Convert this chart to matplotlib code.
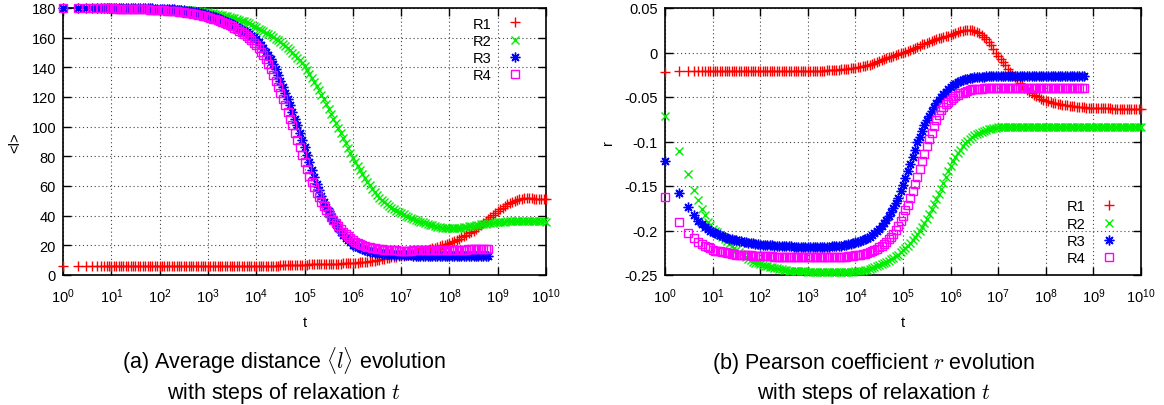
import matplotlib
matplotlib.use("Agg")
import matplotlib.pyplot as plt
import numpy as np

plt.rcParams['font.family'] = ['Liberation Sans', 'DejaVu Sans']
plt.rcParams['axes.unicode_minus'] = False

# sample times: first integer steps, then log-spaced (0.05 decade)
t_early = [1, 2, 3, 4, 5, 6, 7, 8, 9]
exp_short = np.arange(20, 177) / 20.0     # 10^1.0 ... 10^8.8
exp_long = np.arange(20, 201) / 20.0      # 10^1.0 ... 10^10
t_short = np.concatenate([t_early, 10 ** exp_short])
t_long = np.concatenate([t_early, 10 ** exp_long])

labels = ['R1', 'R2', 'R3', 'R4']

# ---- (a) average distance <l> ----
l_R1 = [6.0, 6.0, 6.0, 6.0, 6.0, 6.0, 6.0, 6.0, 6.0,
        6.0, 6.0, 6.0, 6.0, 6.0, 6.0, 6.0, 6.0, 6.0, 6.0,
        6.0, 6.0, 6.0, 6.0, 6.0, 6.0, 6.0, 6.0, 6.0, 6.0,
        6.0, 6.0, 6.0, 6.0, 6.0, 6.0, 6.0, 6.0, 6.0, 6.0,
        6.0, 6.0, 6.0, 6.0, 6.0, 6.0, 6.0, 6.0, 6.0, 6.0,
        6.0, 6.0, 6.0, 6.0, 6.0, 6.0, 6.1, 6.1, 6.1, 6.1,
        6.1, 6.1, 6.1, 6.1, 6.2, 6.2, 6.2, 6.2, 6.2, 6.2,
        6.2, 6.2, 6.3, 6.3, 6.3, 6.3, 6.4, 6.4, 6.4, 6.4,
        6.5, 6.5, 6.6, 6.6, 6.7, 6.7, 6.8, 6.8, 6.9, 6.9,
        7.0, 7.0, 7.1, 7.1, 7.2, 7.2, 7.3, 7.3, 7.4, 7.4,
        7.5, 7.5, 7.6, 7.6, 7.7, 7.7, 7.8, 7.8, 7.9, 8.0,
        8.1, 8.2, 8.4, 8.5, 8.7, 8.8, 9.0, 9.2, 9.5, 9.7,
        10.0, 10.3, 10.6, 10.9, 11.2, 11.5, 11.8, 12.0, 12.3, 12.5,
        12.8, 13.1, 13.4, 13.7, 14.0, 14.4, 14.8, 15.2, 15.6, 16.0,
        16.5, 17.0, 17.5, 18.0, 18.5, 19.0, 19.5, 20.0, 20.5, 21.0,
        21.5, 22.2, 23.0, 23.8, 24.6, 25.4, 26.3, 27.2, 28.1, 29.0,
        30.0, 31.2, 32.4, 33.7, 35.0, 36.3, 37.6, 39.0, 40.3, 41.6,
        43.0, 44.3, 45.5, 46.6, 47.7, 48.6, 49.5, 50.2, 50.8, 51.2,
        51.5, 51.7, 51.8, 51.7, 51.6, 51.4, 51.2, 51.1, 51.0, 51.0,
        51.0]
l_R2 = [180.0, 180.0, 180.0, 180.0, 180.0, 179.9, 179.9, 179.9, 179.9,
        179.8, 179.8, 179.8, 179.8, 179.7, 179.7, 179.7, 179.7, 179.7, 179.6,
        179.6, 179.6, 179.6, 179.5, 179.5, 179.5, 179.5, 179.4, 179.4, 179.4,
        179.3, 179.3, 179.2, 179.2, 179.1, 179.1, 179.0, 179.0, 178.9, 178.8,
        178.7, 178.6, 178.5, 178.4, 178.3, 178.2, 178.0, 177.8, 177.5, 177.3,
        177.0, 176.7, 176.4, 176.1, 175.8, 175.5, 175.1, 174.7, 174.3, 173.9,
        173.5, 173.1, 172.6, 172.1, 171.5, 170.9, 170.3, 169.6, 168.8, 167.9,
        167.0, 166.1, 165.2, 164.3, 163.4, 162.5, 161.5, 160.5, 159.4, 158.2,
        157.0, 155.8, 154.5, 153.0, 151.5, 149.9, 148.2, 146.5, 144.7, 142.9,
        141.0, 138.4, 135.8, 133.1, 130.3, 127.5, 124.6, 121.6, 118.5, 115.3,
        112.0, 108.8, 105.5, 102.3, 99.0, 95.6, 92.3, 88.9, 85.6, 82.3,
        79.0, 76.2, 73.5, 70.7, 68.0, 65.5, 63.0, 60.6, 58.3, 56.1,
        54.0, 52.2, 50.5, 49.0, 47.6, 46.4, 45.2, 44.2, 43.3, 42.4,
        41.6, 40.8, 40.0, 39.3, 38.6, 37.9, 37.3, 36.6, 36.0, 35.4,
        34.8, 34.3, 33.8, 33.4, 33.0, 32.6, 32.3, 32.0, 31.8, 31.6,
        31.5, 31.5, 31.5, 31.6, 31.7, 31.9, 32.1, 32.4, 32.7, 33.0,
        33.3, 33.6, 33.9, 34.2, 34.4, 34.7, 34.9, 35.1, 35.3, 35.5,
        35.6, 35.8, 35.9, 36.0, 36.1, 36.2, 36.3, 36.3, 36.4, 36.5,
        36.5, 36.5, 36.4, 36.4, 36.3, 36.3, 36.2, 36.2, 36.1, 36.1,
        36.0]
l_R3 = [180.0, 180.0, 180.0, 180.0, 180.0, 180.0, 180.0, 180.0, 180.0,
        180.0, 180.0, 179.9, 179.9, 179.9, 179.9, 179.9, 179.9, 179.8, 179.8,
        179.8, 179.8, 179.8, 179.8, 179.7, 179.7, 179.7, 179.7, 179.6, 179.6,
        179.5, 179.5, 179.4, 179.3, 179.2, 179.1, 179.0, 178.9, 178.8, 178.7,
        178.5, 178.3, 178.1, 177.9, 177.6, 177.3, 177.0, 176.6, 176.2, 175.8,
        175.3, 174.9, 174.4, 173.9, 173.4, 172.8, 172.2, 171.5, 170.8, 170.0,
        169.2, 168.4, 167.5, 166.5, 165.5, 164.5, 163.5, 162.4, 161.3, 160.2,
        159.0, 157.1, 155.0, 152.8, 150.5, 148.0, 145.5, 142.4, 139.0, 135.1,
        131.0, 127.0, 123.0, 118.8, 114.5, 110.0, 105.5, 100.8, 96.0, 91.0,
        86.0, 81.0, 76.0, 71.0, 66.0, 61.4, 57.0, 53.1, 49.5, 46.1,
        43.0, 39.9, 37.0, 34.1, 31.5, 29.2, 27.0, 25.2, 23.5, 22.0,
        20.5, 19.5, 18.6, 17.9, 17.2, 16.7, 16.2, 15.8, 15.4, 15.1,
        14.8, 14.5, 14.3, 14.1, 14.0, 13.9, 13.8, 13.7, 13.6, 13.5,
        13.4, 13.3, 13.3, 13.2, 13.2, 13.1, 13.1, 13.1, 13.1, 13.0,
        13.0, 13.0, 13.0, 13.0, 13.0, 13.0, 13.0, 13.0, 13.0, 13.0,
        13.0, 13.0, 13.0, 13.0, 13.0, 13.0, 13.0, 13.0, 13.0, 13.0,
        13.0, 13.0, 13.0, 13.0, 13.0, 13.0, 13.0]
l_R4 = [180.0, 179.9, 179.9, 179.9, 179.8, 179.8, 179.8, 179.8, 179.8,
        179.7, 179.7, 179.6, 179.6, 179.5, 179.5, 179.4, 179.4, 179.3, 179.3,
        179.2, 179.2, 179.1, 179.1, 179.0, 179.0, 178.9, 178.9, 178.8, 178.7,
        178.6, 178.5, 178.4, 178.3, 178.1, 178.0, 177.8, 177.7, 177.5, 177.3,
        177.1, 176.9, 176.7, 176.5, 176.2, 175.9, 175.6, 175.2, 174.8, 174.3,
        173.8, 173.4, 172.9, 172.4, 171.8, 171.2, 170.6, 169.9, 169.2, 168.4,
        167.6, 166.7, 165.7, 164.6, 163.5, 162.3, 161.0, 159.6, 158.2, 156.6,
        155.0, 152.8, 150.5, 148.0, 145.5, 142.4, 139.0, 135.1, 131.0, 127.0,
        123.0, 118.8, 114.5, 110.0, 105.5, 100.8, 96.0, 91.0, 86.0, 81.0,
        76.0, 71.5, 67.0, 63.0, 59.2, 55.6, 52.3, 49.3, 46.5, 43.9,
        41.5, 39.2, 37.0, 34.9, 32.9, 31.0, 29.2, 27.5, 26.0, 24.7,
        23.5, 22.4, 21.5, 20.7, 20.0, 19.5, 19.0, 18.6, 18.2, 17.9,
        17.6, 17.4, 17.2, 17.0, 16.9, 16.8, 16.7, 16.6, 16.6, 16.5,
        16.5, 16.5, 16.5, 16.5, 16.5, 16.6, 16.6, 16.6, 16.6, 16.6,
        16.7, 16.7, 16.7, 16.7, 16.8, 16.8, 16.8, 16.8, 16.9, 16.9,
        17.0, 17.0, 17.0, 17.0, 17.1, 17.1, 17.1, 17.1, 17.2, 17.2,
        17.2, 17.2, 17.3, 17.3, 17.3, 17.3, 17.4]

# ---- (b) Pearson coefficient r ----
r_R1 = [-0.022, -0.021, -0.021, -0.021, -0.021, -0.021, -0.021, -0.021, -0.021,
        -0.021, -0.021, -0.021, -0.021, -0.021, -0.021, -0.021, -0.021, -0.021, -0.021,
        -0.021, -0.021, -0.021, -0.021, -0.021, -0.021, -0.021, -0.021, -0.021, -0.021,
        -0.021, -0.021, -0.021, -0.021, -0.021, -0.021, -0.021, -0.021, -0.021, -0.021,
        -0.021, -0.021, -0.021, -0.021, -0.021, -0.021, -0.021, -0.021, -0.021, -0.021,
        -0.021, -0.021, -0.021, -0.021, -0.021, -0.021, -0.0205, -0.0205, -0.020, -0.020,
        -0.020, -0.020, -0.0195, -0.0195, -0.019, -0.0185, -0.018, -0.018, -0.0175, -0.0172,
        -0.017, -0.0165, -0.016, -0.0155, -0.015, -0.0143, -0.0135, -0.0125, -0.0115, -0.0105,
        -0.0095, -0.0085, -0.0075, -0.0065, -0.0055, -0.0045, -0.0035, -0.0025, -0.0015, -0.0007,
        0.000, 0.001, 0.002, 0.003, 0.004, 0.0053, 0.0065, 0.0078, 0.009, 0.010,
        0.011, 0.012, 0.013, 0.014, 0.015, 0.0158, 0.0165, 0.0173, 0.018, 0.019,
        0.020, 0.021, 0.022, 0.023, 0.0238, 0.0246, 0.0252, 0.0255, 0.0256, 0.0250,
        0.024, 0.023, 0.0215, 0.0197, 0.0175, 0.0147, 0.0115, 0.008, 0.004, 0.000,
        -0.004, -0.0075, -0.011, -0.0145, -0.018, -0.0215, -0.025, -0.028, -0.031, -0.034,
        -0.037, -0.0395, -0.042, -0.044, -0.046, -0.0475, -0.049, -0.0505, -0.052, -0.053,
        -0.054, -0.0548, -0.0555, -0.0563, -0.057, -0.0575, -0.058, -0.0585, -0.059, -0.0595,
        -0.060, -0.0603, -0.0605, -0.0608, -0.061, -0.0613, -0.0615, -0.0618, -0.062, -0.062,
        -0.062, -0.0621, -0.0622, -0.0623, -0.0625, -0.0626, -0.0627, -0.0628, -0.063, -0.063,
        -0.063, -0.063, -0.063, -0.063, -0.063, -0.063, -0.063, -0.063, -0.063, -0.063,
        -0.063]
r_R2 = [-0.071, -0.111, -0.136, -0.154, -0.166, -0.176, -0.183, -0.190, -0.194,
        -0.198, -0.200, -0.202, -0.205, -0.207, -0.210, -0.212, -0.215, -0.217, -0.220,
        -0.222, -0.224, -0.226, -0.228, -0.230, -0.232, -0.233, -0.235, -0.236, -0.237,
        -0.238, -0.239, -0.240, -0.240, -0.241, -0.241, -0.242, -0.242, -0.243, -0.243,
        -0.244, -0.244, -0.245, -0.245, -0.245, -0.245, -0.246, -0.246, -0.246, -0.246,
        -0.247, -0.247, -0.247, -0.247, -0.247, -0.247, -0.247, -0.247, -0.247, -0.247,
        -0.247, -0.247, -0.247, -0.247, -0.247, -0.247, -0.247, -0.247, -0.247, -0.247,
        -0.246, -0.246, -0.245, -0.245, -0.244, -0.244, -0.243, -0.242, -0.241, -0.240,
        -0.239, -0.238, -0.237, -0.2355, -0.234, -0.2325, -0.231, -0.229, -0.227, -0.2245,
        -0.222, -0.2195, -0.217, -0.214, -0.211, -0.2075, -0.204, -0.200, -0.196, -0.1915,
        -0.187, -0.1815, -0.176, -0.1705, -0.165, -0.159, -0.153, -0.1465, -0.140, -0.1335,
        -0.127, -0.122, -0.117, -0.113, -0.109, -0.1055, -0.102, -0.0995, -0.097, -0.095,
        -0.093, -0.0915, -0.090, -0.089, -0.088, -0.087, -0.086, -0.0855, -0.085, -0.0845,
        -0.084, -0.084, -0.084, -0.084, -0.084, -0.084, -0.084, -0.084, -0.084, -0.084,
        -0.084, -0.084, -0.084, -0.084, -0.084, -0.084, -0.084, -0.084, -0.084, -0.084,
        -0.084, -0.084, -0.084, -0.084, -0.084, -0.084, -0.084, -0.084, -0.084, -0.084,
        -0.084, -0.084, -0.084, -0.084, -0.084, -0.084, -0.084, -0.084, -0.084, -0.084,
        -0.084, -0.084, -0.084, -0.084, -0.084, -0.084, -0.084, -0.084, -0.084, -0.084,
        -0.084, -0.084, -0.084, -0.084, -0.084, -0.084, -0.084, -0.084, -0.084, -0.084,
        -0.084]
r_R3 = [-0.122, -0.158, -0.174, -0.183, -0.189, -0.193, -0.196, -0.198, -0.200,
        -0.202, -0.203, -0.204, -0.205, -0.206, -0.207, -0.208, -0.209, -0.210, -0.2105,
        -0.211, -0.2115, -0.212, -0.2125, -0.213, -0.2135, -0.214, -0.2145, -0.215, -0.2155,
        -0.216, -0.216, -0.216, -0.216, -0.216, -0.2165, -0.217, -0.217, -0.217, -0.217,
        -0.217, -0.217, -0.217, -0.2175, -0.218, -0.218, -0.218, -0.218, -0.218, -0.218,
        -0.218, -0.218, -0.218, -0.218, -0.218, -0.218, -0.218, -0.218, -0.218, -0.218,
        -0.2175, -0.217, -0.217, -0.217, -0.217, -0.2165, -0.216, -0.2155, -0.215, -0.214,
        -0.213, -0.2125, -0.212, -0.211, -0.210, -0.2085, -0.207, -0.205, -0.203, -0.2005,
        -0.198, -0.195, -0.192, -0.188, -0.184, -0.1795, -0.175, -0.169, -0.163, -0.156,
        -0.149, -0.141, -0.133, -0.125, -0.117, -0.109, -0.101, -0.0945, -0.088, -0.082,
        -0.076, -0.071, -0.066, -0.0615, -0.057, -0.0535, -0.050, -0.047, -0.044, -0.0415,
        -0.039, -0.037, -0.035, -0.0335, -0.032, -0.031, -0.030, -0.0295, -0.029, -0.0285,
        -0.028, -0.0275, -0.027, -0.027, -0.027, -0.0265, -0.026, -0.026, -0.026, -0.026,
        -0.026, -0.026, -0.026, -0.026, -0.026, -0.026, -0.026, -0.026, -0.026, -0.026,
        -0.026, -0.026, -0.026, -0.026, -0.026, -0.026, -0.026, -0.026, -0.026, -0.026,
        -0.026, -0.026, -0.026, -0.026, -0.026, -0.026, -0.026, -0.026, -0.026, -0.026,
        -0.026, -0.026, -0.026, -0.026, -0.026, -0.026, -0.026]
r_R4 = [-0.162, -0.190, -0.203, -0.208, -0.213, -0.215, -0.217, -0.219, -0.220,
        -0.222, -0.2225, -0.223, -0.2235, -0.224, -0.2245, -0.225, -0.2255, -0.226, -0.2265,
        -0.227, -0.227, -0.227, -0.2275, -0.228, -0.228, -0.228, -0.2285, -0.229, -0.229,
        -0.229, -0.229, -0.229, -0.229, -0.229, -0.229, -0.230, -0.230, -0.230, -0.230,
        -0.230, -0.230, -0.230, -0.230, -0.230, -0.230, -0.230, -0.230, -0.230, -0.230,
        -0.230, -0.230, -0.230, -0.230, -0.230, -0.230, -0.230, -0.230, -0.230, -0.230,
        -0.230, -0.230, -0.230, -0.230, -0.230, -0.230, -0.2295, -0.229, -0.229, -0.2285,
        -0.228, -0.2275, -0.227, -0.2265, -0.226, -0.225, -0.224, -0.223, -0.222, -0.2205,
        -0.219, -0.217, -0.215, -0.2125, -0.210, -0.207, -0.204, -0.1995, -0.195, -0.1895,
        -0.184, -0.1775, -0.171, -0.1635, -0.156, -0.148, -0.140, -0.131, -0.122, -0.1135,
        -0.105, -0.0975, -0.090, -0.083, -0.076, -0.0705, -0.065, -0.0615, -0.058, -0.0555,
        -0.053, -0.051, -0.049, -0.0475, -0.046, -0.045, -0.044, -0.043, -0.042, -0.0415,
        -0.041, -0.041, -0.041, -0.0405, -0.040, -0.040, -0.040, -0.040, -0.040, -0.040,
        -0.040, -0.040, -0.040, -0.040, -0.040, -0.040, -0.040, -0.040, -0.040, -0.040,
        -0.040, -0.040, -0.040, -0.040, -0.040, -0.040, -0.040, -0.040, -0.040, -0.040,
        -0.040, -0.040, -0.040, -0.040, -0.040, -0.040, -0.040, -0.040, -0.040, -0.040,
        -0.040, -0.040, -0.040, -0.040, -0.040, -0.040, -0.040]

r_ticks = [-0.25, -0.2, -0.15, -0.1, -0.05, 0, 0.05]
r_ticklabels = ['-0.25', '-0.2', '-0.15', '-0.1', '-0.05', '0', '0.05']

colors = ['#ff0000', '#00ee00', '#0000ff', '#ff00ff']
markers = ['+', 'x', (8, 2, 0), 's']
msizes = [7, 6, 7, 5.5]


def draw(ax, series, times):
    for vals, t, lab, c, m, ms in zip(series, times, labels, colors, markers, msizes):
        ax.plot(t, vals, linestyle='none', marker=m, ms=ms, mew=1.0,
                color=c, mfc='none' if m == 's' else c, label=lab,
                clip_on=False, zorder=3)
    ax.set_xscale('log')
    ax.set_xlim(1, 1e10)
    ax.set_xticks([10.0 ** k for k in range(11)])
    ax.xaxis.set_minor_locator(matplotlib.ticker.NullLocator())
    ax.grid(True, linestyle=(0, (1, 2.5)), color='#444444', linewidth=0.8)
    ax.set_axisbelow(True)
    ax.tick_params(direction='in', length=6, width=1, top=True, right=True,
                   labelsize=10.5)
    ax.tick_params(axis='x', pad=8)
    ax.tick_params(axis='y', pad=5)
    for s in ax.spines.values():
        s.set_linewidth(1.2)
    ax.set_xlabel('t', fontsize=10.5)
    ax.xaxis.set_label_coords(0.5, -0.15)


fig = plt.figure(figsize=(11.64, 4.06), dpi=100)
W, H = 1164.0, 406.0
ax1 = fig.add_axes([63 / W, 1 - 276 / H, 483 / W, 267 / H])
ax2 = fig.add_axes([665 / W, 1 - 276 / H, 476 / W, 267 / H])

draw(ax1, [l_R1, l_R2, l_R3, l_R4], [t_long, t_long, t_short, t_short])
ax1.set_ylim(0, 180)
ax1.set_yticks(np.arange(0, 181, 20))
ax1.set_ylabel('<l>', fontsize=10.5)
ax1.yaxis.set_label_coords(-0.085, 0.5)
ax1.legend(loc='upper right', bbox_to_anchor=(0.951, 0.968), frameon=False,
           markerfirst=False, handlelength=1.0, handletextpad=1.1,
           labelspacing=0.22, borderpad=0, borderaxespad=0, fontsize=10.5)

draw(ax2, [r_R1, r_R2, r_R3, r_R4], [t_long, t_long, t_short, t_short])
ax2.set_ylim(-0.25, 0.05)
ax2.set_yticks(r_ticks)
ax2.set_yticklabels(r_ticklabels)
ax2.set_ylabel('r', fontsize=10.5)
ax2.yaxis.set_label_coords(-0.105, 0.5)
ax2.legend(loc='upper right', bbox_to_anchor=(0.9485, 0.283), frameon=False,
           markerfirst=False, handlelength=1.0, handletextpad=1.1,
           labelspacing=0.22, borderpad=0, borderaxespad=0, fontsize=10.5)

cap = dict(ha='center', va='baseline', fontsize=15.5, math_fontfamily='cm')
fig.text(284 / W, 1 - 369 / H, r'(a) Average distance $\langle l\rangle$ evolution', **cap)
fig.text(284 / W, 1 - 399 / H, r'with steps of relaxation $t$', **cap)
fig.text(874 / W, 1 - 369 / H, r'(b) Pearson coefficient $r$ evolution', **cap)
fig.text(874 / W, 1 - 399 / H, r'with steps of relaxation $t$', **cap)

fig.savefig('out.png', dpi=100)
